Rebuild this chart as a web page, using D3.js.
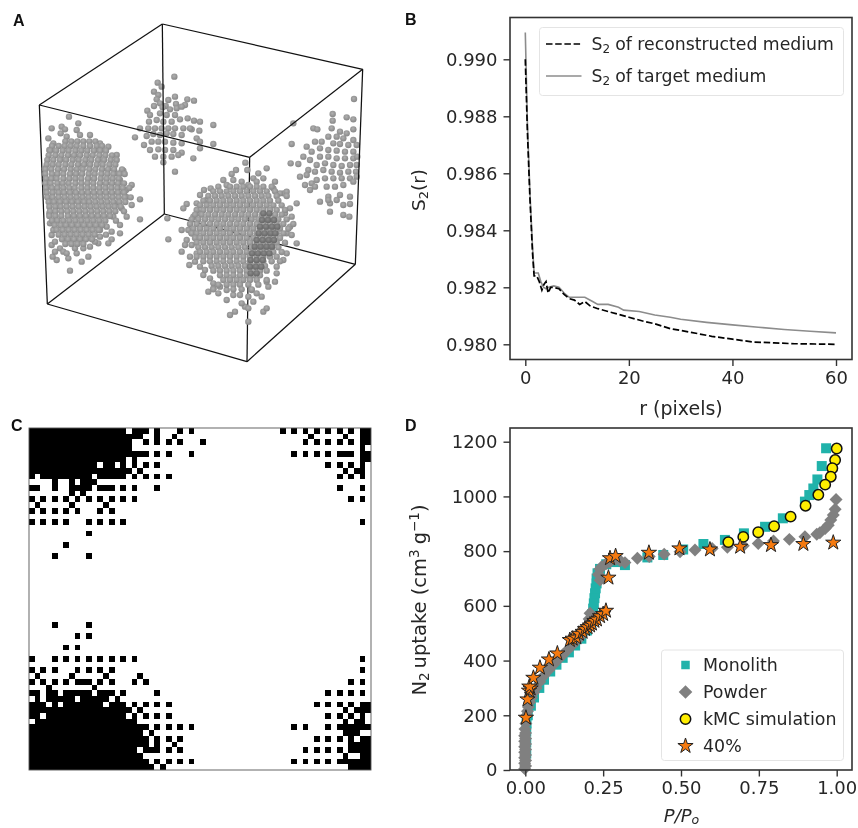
<!DOCTYPE html>
<html>
<head>
<meta charset="utf-8">
<script src="https://cdn.jsdelivr.net/npm/d3@7"></script>
<style>
html,body{margin:0;padding:0;background:#fff;}
svg{display:block;filter:blur(0.5px);}
text{font-family:"DejaVu Sans",sans-serif;fill:#262626;}
.letter{font-family:"Liberation Sans",sans-serif;font-weight:700;font-size:16px;fill:#111;}
</style>
</head>
<body>
<svg id="fig" width="858" height="828"></svg>
<script>
// ---------- Panel A : cube corners and spheres, in reference-crop units (3x picture) ----------
const cubeCorners = {tb:[487,72],tr:[1088,208],tf:[749,472],tl:[118,315],bl:[142,912],bf:[741,1085],br:[1066,793],bb:[493,642]};
const cubeEdges = [["tb","tr"],["tr","tf"],["tf","tl"],["tl","tb"],["bl","bf"],["bf","br"],["br","bb"],["bb","bl"],["tb","bb"],["tr","br"],["tf","bf"],["tl","bl"]];
const backSpheres = [[523,230],[473,248],[485,260],[462,275],[475,285],[470,298],[525,290],[505,300],[562,298],[582,302],[555,315],[528,312],[480,310],[497,318],[442,332],[462,318],[488,322],[510,328],[530,325],[545,320],[450,345],[480,340],[500,345],[525,345],[447,365],[470,360],[490,365],[515,365],[540,358],[563,355],[582,362],[600,365],[640,375],[420,385],[445,385],[465,385],[485,385],[505,385],[525,385],[550,385],[575,388],[598,392],[405,412],[440,408],[460,402],[480,405],[500,400],[520,402],[545,405],[590,415],[600,425],[640,432],[432,435],[455,425],[475,425],[495,425],[520,428],[545,430],[450,450],[475,448],[495,450],[520,450],[545,458],[600,445],[465,470],[490,470],[515,470],[535,465],[580,475],[490,487],[525,515],[570,385]];
const rightSpheres = [[1062,297],[998,342],[1040,352],[1060,358],[998,362],[880,370],[940,385],[952,388],[995,385],[1060,388],[1020,395],[1040,400],[875,432],[985,410],[1010,410],[1030,415],[1060,420],[920,440],[945,425],[965,425],[1000,430],[1020,432],[1045,435],[1070,435],[910,470],[935,455],[960,445],[985,450],[1010,452],[1035,455],[1060,455],[872,490],[895,492],[930,480],[960,470],[985,470],[1010,475],[1035,475],[1060,475],[1072,470],[925,510],[950,495],[975,490],[1000,495],[1025,498],[1050,495],[1070,495],[900,530],[920,525],[945,515],[970,510],[995,515],[1020,518],[1045,515],[1068,515],[915,555],[935,550],[930,570],[950,540],[975,535],[1000,535],[1025,535],[1050,535],[1070,530],[945,560],[980,560],[1005,560],[1030,555],[1060,545],[960,605],[985,590],[990,610],[1020,585],[1050,590],[1010,600],[1030,615],[1050,612],[990,635],[1030,645],[1048,650],[985,600]];
const leftScattered = [[207,350],[155,385],[185,380],[195,388],[235,370],[230,390],[182,400],[200,410],[240,405],[145,415],[160,430],[148,450],[270,405],[300,430],[325,440],[350,465],[370,512],[355,520],[395,555],[378,570],[420,598],[395,615],[420,658],[380,650],[360,675],[360,700],[335,718],[325,730],[295,730],[270,740],[265,770],[245,785],[210,812],[205,775],[170,780],[158,770],[155,735],[155,705],[230,760],[180,745],[190,755],[135,505],[360,540],[378,590],[345,610],[365,625],[340,650],[320,680],[335,695],[300,710],[285,725],[250,745],[225,745],[200,760],[165,725],[160,690],[150,670],[148,640],[165,755],[250,720],[300,690]];
const leftRows = [
[424,196,214,232,250,268,286],
[438,156,176,194,212,230,250,270,290,306],
[452,150,168,188,206,226,244,262,282,300,318],
[466,146,166,184,204,222,240,260,278,298,316,336],
[480,142,160,180,198,218,236,256,274,294,312,332,350],
[494,140,158,176,196,214,234,252,270,290,308,328,346],
[508,136,154,174,192,212,230,248,268,286,306,324,342,366],
[522,136,156,172,190,210,228,246,266,284,304,322,340,358,374],
[536,138,154,170,190,208,226,244,264,282,302,320,338,356],
[550,136,152,172,188,206,226,244,262,280,300,318,336,354,372],
[564,138,156,172,190,208,224,244,262,280,298,316,334,352,368,388],
[578,140,158,176,192,210,228,246,264,282,300,318,336,354,372],
[592,142,158,176,194,212,230,248,266,284,302,320,338,356,374,392],
[606,146,162,180,198,216,234,252,268,286,304,322,340,358,376],
[620,148,166,182,200,218,236,254,272,290,308,326,344,362],
[634,150,166,184,202,220,238,256,274,292,310,328,346,372],
[648,148,166,184,204,222,240,258,276,294,312,330],
[662,156,172,190,208,226,244,262,280,298,316,348],
[676,164,182,198,216,234,252,270,288,306],
[690,170,188,206,224,242,260,278,296],
[704,176,194,212,230,248,266,284,318],
[718,186,204,222,240,258,276],
[732,196,214,232,250]];
const centerScattered = [[736,488],[742,510],[708,510],[695,522],[670,540],[800,505],[775,520],[790,535],[825,545],[760,535],[632,565],[612,570],[600,585],[655,560],[680,555],[725,545],[850,580],[860,575],[890,610],[870,625],[560,612],[550,625],[590,610],[580,650],[545,690],[560,720],[575,735],[545,755],[570,770],[568,795],[505,718],[502,655],[890,730],[860,760],[830,800],[610,825],[630,835],[625,875],[640,865],[655,880],[680,900],[700,885],[690,945],[705,935],[745,965],[735,920],[745,925],[790,935],[800,925],[785,890],[760,905],[825,845],[805,860],[725,910],[755,870],[620,600],[600,640],[565,690],[575,700],[555,735],[590,760],[585,785],[600,800],[615,810],[640,850],[660,860],[680,870],[720,885],[745,890],[770,880],[800,845],[830,820],[850,780],[870,680],[875,650],[855,640],[860,700],[875,705],[840,580],[820,565],[770,545],[745,555],[700,540]];
const centerRows = [
[560,690,710,730,750,770,790,815],
[574,640,660,680,700,720,740,760,780,800,825],
[588,625,645,665,685,705,725,745,765,785,805,830,860],
[602,610,630,650,670,690,710,730,750,770,790,810,835],
[616,600,620,640,660,680,700,720,740,760,780,800,820,845],
[630,590,610,630,650,670,690,710,730,750,770,790,810,830,855],
[644,585,605,625,645,665,685,705,725,745,765,785,805,825,845],
[658,575,595,615,635,655,675,695,715,735,755,775,795,815,835,860],
[672,570,590,610,630,650,670,690,710,730,750,770,790,810,830,850,880],
[686,580,600,620,640,660,680,700,720,740,760,780,800,820,840,865],
[700,575,590,610,630,650,670,690,710,730,750,770,790,810,830,850],
[714,585,600,620,640,660,680,700,720,740,760,780,800,820,840],
[728,590,610,630,650,670,690,710,730,750,770,790,810,830,855],
[742,595,615,635,655,675,695,715,735,755,775,795,815,835],
[756,600,620,640,660,680,700,720,740,760,780,800,820,845],
[770,590,610,630,650,670,690,710,730,750,770,790,810,830],
[784,610,630,650,670,690,710,730,750,770,790,815,840],
[798,635,655,675,695,715,735,755,775,795],
[812,640,660,680,700,720,740,760,780,800],
[826,660,680,700,720,740,760,780],
[840,670,690,710,730,750,770,800],
[854,655,680,700,720,745,775],
[868,640,700,725,755]];
const centerDarkRows = [
[640,790,808],[660,786,804,822],[680,780,798,816,832],[700,776,794,812,826],
[720,770,788,806,822],[740,764,782,800,816],[760,756,774,792,808],[780,752,770,788],
[800,750,768,784],[820,752,770]];

// ---------- Panel B ----------
const s2Ticks = [0.980,0.982,0.984,0.986,0.988,0.990];
const rTicks = [0,20,40,60];
const reconR = [0,.4,.9,1.4,1.7,2.2,2.7,3.2,3.6,4.0,4.4,4.9,5.4,6.5,7.5,8.5,9.5,10.5,11.5,12.5,14,16,18,20,23,25,28,32,36,40,44,48,52,56,60];
const reconS = [.9900,.9875,.9851,.9832,.9824,.9824,.9822,.9819,.9821,.9822,.9818,.9820,.9820,.98195,.98175,.9816,.98155,.9814,.9815,.98135,.98125,.98115,.98105,.98095,.9808,.98072,.98055,.98042,.98028,.98018,.98008,.98005,.98002,.98001,.98000];
const targetR = [0,.4,.9,1.4,1.7,2.5,3,3.5,4,4.5,5.5,6.5,7.5,8.5,10,11.5,13,14,16,18,19,22,25,28,30,35,40,45,50,55,60];
const targetS = [.99094,.9878,.9853,.9834,.9825,.9825,.9822,.9820,.98195,.9820,.98205,.9820,.9818,.98165,.98165,.98165,.9815,.9814,.9814,.9813,.9812,.98115,.98103,.98095,.98088,.98077,.98068,.9806,.98052,.98046,.9804];

// ---------- Panel C : 60 x 60 binary slice, black spans per row ----------
const sliceRows = {
0:"0-16 18-20 22 26 28 44 46 48 50 52 54 56 58-59",
1:"0-19 22 25 49 55 58-59",
2:"0-17 20 22 24 26 30 48 50 52 54 56 58-59",
3:"0-17 58",
4:"0-20 22 24 28 46 48 50 52 54-56 58-59",
5:"0-16 18 58-59",
6:"0-11 13-14 16 18 20 22 52 54 56 58",
7:"0-17 19 55 57-58",
8:"0 2-10 12-16 18 20 22 24 54 56 58",
9:"4 7 9-11",
10:"0-1 4 7-10 12-14 16 18 22 54 58",
11:"7 9",
12:"0 2 4 6 8 10 12 14 16 18 56 58",
13:"1 7 13",
14:"0 2 4 6 8 12 14",
16:"0 2 4 6 10 12 14 16 58",
18:"10",
20:"6",
22:"4 10",
34:"4 10",
36:"8 10",
38:"6 8",
40:"0 4 6 8 10 12 14 16 18 58",
42:"0 2 4 8 10 12 14 58",
43:"1 7 13 19",
44:"0 2 4 6 8-10 12 14 18 20 56 58",
45:"3 11",
46:"0-1 3-4 6-10 12-14 16 22 52 54 56 58",
47:"1 3-7 9-13 15",
48:"0-2 4 6-12 14-16 18 20 22 24 50 52 54 56 58-59",
49:"0-17 19 55 57-59",
50:"0-1 3-16 18 20 22 24 52 54 56 58",
51:"1-18 55 57-58",
52:"0-20 22 24 26 28 46 48 52 54-59",
53:"0-19 21 55-57",
54:"0-20 22 24 26 50 52 54 56 58-59",
55:"0-20 22 25 56-59",
56:"0-18 20-22 24 26 48 50 52 54 56-59",
57:"0-19 55 58-59",
58:"0-20 22 24 26 28 46 48 50 52 54-59",
59:"0-21 23 56-59"};
const sliceSize = 60;

// ---------- Panel D ----------
const pTicks = [0,.25,.5,.75,1];
const uptakeTicks = [0,200,400,600,800,1000,1200];
const monolithP = [.003,.003,.003,.004,.008,.018,.028,.045,.06,.08,.1,.12,.14,.16,.18,.198,.212,.215,.218,.22,.222,.224,.226,.229,.229,.232,.24,.26,.29,.32,.392,.443,.507,.572,.641,.702,.77,.827,.898,.912,.925,.938,.952,.966];
const monolithU = [60,100,140,170,200,235,265,300,330,360,385,410,430,455,480,510,540,570,590,609,628,646,664,682,700,719,735,752,760,749,777,786,806,826,841,865,889,920,981,1005,1029,1062,1111,1176];
const powderP = [-.002,.001,-.002,.001,-.002,.001,-.002,.001,-.002,.001,-.002,.001,-.002,.001,-.001,.002,.005,.007,.01,.014,.02,.027,.035,.047,.06,.075,.09,.105,.12,.135,.15,.165,.18,.19,.2,.205,.208,.24,.235,.24,.245,.26,.272,.29,.305,.32,.36,.398,.446,.497,.545,.6,.649,.7,.748,.797,.848,.898,.936,.946,.963,.973,.981,.989,.995,.998];
const powderU = [5,15,25,35,45,55,65,75,85,95,105,115,125,135,150,170,200,215,230,248,265,283,300,323,345,365,385,403,420,438,455,472,490,510,530,552,573,694,715,735,743,755,761,770,765,758,774,780,789,798,804,810,814,820,828,837,843,853,862,867,883,895,914,932,953,989];
const kmcP = [1.0,.995,.986,.981,.963,.941,.900,.852,.799,.748,.700,.652];
const kmcU = [1175,1133,1103,1072,1043,1006,966,926,891,869,852,833];
const starP = [.002,.007,.012,.017,.013,.026,.047,.076,.103,.143,.152,.164,.172,.184,.192,.2,.208,.214,.222,.23,.24,.25,.259,.267,.272,.29,.397,.495,.593,.69,.789,.893,.989];
const starU = [191,258,290,298,305,337,374,404,426,475,480,484,498,505,515,522,528,535,545,550,562,570,582,703,774,782,794,810,806,816,822,826,831];
const dLegend = ["Monolith","Powder","kMC simulation","40%"];

const colors = {monolith:"#20b2aa",powder:"#808080",kmc:"#ffee00",star:"#f57a10",ink:"#333333"};

// ---------- drawing ----------
const svg = d3.select("#fig");
const defs = svg.append("defs");
function sphereGrad(id, a, b){
  const g = defs.append("radialGradient").attr("id",id).attr("cx","45%").attr("cy","40%").attr("r","60%");
  g.append("stop").attr("offset","0%").attr("stop-color",a);
  g.append("stop").attr("offset","100%").attr("stop-color",b);
}
sphereGrad("sph","#b0b0b0","#878787");
sphereGrad("sphDark","#8a8a8a","#666666");

[["A",13,26],["B",405,25],["C",11,430.5],["D",405,430.5]].forEach(d=>{
  svg.append("text").attr("class","letter").attr("x",d[1]).attr("y",d[2]).text(d[0]);
});

// Panel A
const ax = d3.scaleLinear().domain([0,1200]).range([0,400]);
const ay = d3.scaleLinear().domain([0,1200]).range([0,400]);
const gA = svg.append("g");
const flatten = rows => rows.flatMap(r => r.slice(1).map(x => [x, r[0]]));
function spheres(pts, fill){
  gA.append("g").selectAll("circle").data(pts).join("circle")
    .attr("cx",d=>ax(d[0])).attr("cy",d=>ay(d[1])).attr("r",3.2).attr("fill",fill);
}
spheres(backSpheres,"url(#sph)");
spheres(rightSpheres,"url(#sph)");
gA.append("g").selectAll("line").data(cubeEdges).join("line")
  .attr("x1",d=>ax(cubeCorners[d[0]][0])).attr("y1",d=>ay(cubeCorners[d[0]][1]))
  .attr("x2",d=>ax(cubeCorners[d[1]][0])).attr("y2",d=>ay(cubeCorners[d[1]][1]))
  .attr("stroke","#111").attr("stroke-width",1.25);
spheres(leftScattered.concat(flatten(leftRows)),"url(#sph)");
spheres(centerScattered.concat(flatten(centerRows)),"url(#sph)");
spheres(flatten(centerDarkRows),"url(#sphDark)");

// shared axes helper
function frame(g, box){
  g.append("rect").attr("x",box.l).attr("y",box.t).attr("width",box.r-box.l).attr("height",box.b-box.t)
    .attr("fill","none").attr("stroke",colors.ink).attr("stroke-width",1.6);
}
function styleAxis(g){
  g.select(".domain").remove();
  g.selectAll(".tick line").attr("stroke",colors.ink).attr("stroke-width",1.4);
  g.selectAll(".tick text").style("font-size","18px").style("fill","#262626");
}

// Panel B
const boxB = {l:510,r:852,t:17.5,b:359.5};
const xB = d3.scaleLinear().domain([0,60]).range([525.3,836]);
const yB = d3.scaleLinear().domain([.98,.99]).range([344.3,59.3]);
const gB = svg.append("g");
const lineB = d3.line().x(d=>xB(d[0])).y(d=>yB(d[1]));
const dash = "6.5,2.7";
gB.append("path").datum(d3.zip(targetR,targetS)).attr("d",lineB).attr("fill","none").attr("stroke","#8c8c8c").attr("stroke-width",1.6);
gB.append("path").datum(d3.zip(reconR,reconS)).attr("d",lineB).attr("fill","none").attr("stroke","#000").attr("stroke-width",1.7).attr("stroke-dasharray",dash);
frame(gB,boxB);
gB.append("g").attr("transform",`translate(0,${boxB.b})`).call(d3.axisBottom(xB).tickValues(rTicks).tickSize(6.5).tickPadding(5)).call(styleAxis);
gB.append("g").attr("transform",`translate(${boxB.l},0)`).call(d3.axisLeft(yB).tickValues(s2Ticks).tickFormat(d3.format(".3f")).tickSize(6.5).tickPadding(6)).call(styleAxis);
gB.append("text").attr("x",681).attr("y",415).attr("text-anchor","middle").style("font-size","19px").text("r (pixels)");
const s2lab = gB.append("text").attr("transform","translate(425,190) rotate(-90)").attr("text-anchor","middle").style("font-size","18.5px");
s2lab.append("tspan").text("S");
s2lab.append("tspan").attr("dy",3).style("font-size","13px").text("2");
s2lab.append("tspan").attr("dy",-3).text("(r)");
gB.append("rect").attr("x",539.5).attr("y",27.5).attr("width",304).attr("height",68).attr("rx",3)
  .attr("fill","#fff").attr("fill-opacity",.8).attr("stroke","#e4e4e4").attr("stroke-width",1);
gB.append("line").attr("x1",546).attr("x2",581.5).attr("y1",44).attr("y2",44).attr("stroke","#000").attr("stroke-width",1.7).attr("stroke-dasharray",dash);
gB.append("line").attr("x1",546).attr("x2",581.5).attr("y1",76).attr("y2",76).attr("stroke","#8c8c8c").attr("stroke-width",1.6);
[["of reconstructed medium",50],["of target medium",82]].forEach(d=>{
  const t = gB.append("text").attr("x",591.5).attr("y",d[1]).style("font-size","17.3px");
  t.append("tspan").text("S");
  t.append("tspan").attr("dy",3).style("font-size","12px").text("2");
  t.append("tspan").attr("dy",-3).attr("dx",5).text(d[0]);
});

// Panel C
const xC = d3.scaleBand().domain(d3.range(sliceSize)).range([29,371]);
const yC = d3.scaleBand().domain(d3.range(sliceSize)).range([428,770]);
const spans = Object.entries(sliceRows).flatMap(([row,txt]) => txt.split(" ").map(s => {
  const p = s.split("-").map(Number);
  return {row:+row, a:p[0], b:p.length>1?p[1]:p[0]};
}));
const gC = svg.append("g");
gC.append("g").attr("shape-rendering","crispEdges").selectAll("rect").data(spans).join("rect")
  .attr("x",d=>xC(d.a)).attr("y",d=>yC(d.row))
  .attr("width",d=>xC(d.b)+xC.bandwidth()-xC(d.a)).attr("height",yC.bandwidth())
  .attr("fill","#000");
gC.append("rect").attr("x",29).attr("y",428).attr("width",342).attr("height",342).attr("fill","none").attr("stroke","#555").attr("stroke-width",.9);

// Panel D
const boxD = {l:510,r:852,t:428,b:770};
const xD = d3.scaleLinear().domain([0,1]).range([525.3,836.7]);
const yD = d3.scaleLinear().domain([0,1200]).range([770,441.7]);
const gD = svg.append("g");
const sq = d3.symbol().type(d3.symbolSquare).size(100)();
const diamond = d3.symbol().type(d3.symbolSquare).size(84)();
const star = d3.symbol().type(d3.symbolStar).size(72)();
function marks(p,u,pathD,fill,stroke,sw,rot){
  gD.append("g").selectAll("path").data(d3.zip(p,u)).join("path")
    .attr("transform",d=>`translate(${xD(d[0])},${yD(d[1])}) rotate(${rot||0})`).attr("d",pathD)
    .attr("fill",fill).attr("stroke",stroke).attr("stroke-width",sw);
}
marks(monolithP,monolithU,sq,colors.monolith,"none",0);
marks(powderP,powderU,diamond,colors.powder,"none",0,45);
gD.append("g").selectAll("circle").data(d3.zip(kmcP,kmcU)).join("circle")
  .attr("cx",d=>xD(d[0])).attr("cy",d=>yD(d[1])).attr("r",5.2).attr("fill",colors.kmc).attr("stroke","#111").attr("stroke-width",1.5);
marks(starP,starU,star,colors.star,"#222",1);
frame(gD,boxD);
gD.append("g").attr("transform",`translate(0,${boxD.b})`).call(d3.axisBottom(xD).tickValues(pTicks).tickFormat(d3.format(".2f")).tickSize(6.5).tickPadding(5)).call(styleAxis);
gD.append("g").attr("transform",`translate(${boxD.l},0)`).call(d3.axisLeft(yD).tickValues(uptakeTicks).tickFormat(d3.format("d")).tickSize(6.5).tickPadding(6)).call(styleAxis);
const pLab = gD.append("text").attr("x",681.5).attr("y",822).attr("text-anchor","middle").style("font-size","18px").style("font-style","italic");
pLab.append("tspan").text("P/P");
pLab.append("tspan").attr("dy",2).style("font-size","12.5px").text("o");
const nLab = gD.append("text").attr("transform","translate(426,600) rotate(-90)").attr("text-anchor","middle").style("font-size","19.5px");
nLab.append("tspan").text("N");
nLab.append("tspan").attr("dy",3).style("font-size","13.5px").text("2");
nLab.append("tspan").attr("dy",-3).attr("dx",4).text("uptake (cm");
nLab.append("tspan").attr("dy",-7).style("font-size","13.5px").text("3");
nLab.append("tspan").attr("dy",7).attr("dx",5).text("g");
nLab.append("tspan").attr("dy",-7).style("font-size","13.5px").text("−1");
nLab.append("tspan").attr("dy",7).text(")");
gD.append("rect").attr("x",661.5).attr("y",650).attr("width",182).attr("height",110.5).attr("rx",3)
  .attr("fill","#fff").attr("fill-opacity",.8).attr("stroke","#e4e4e4").attr("stroke-width",1);
const legendY = d3.scalePoint().domain(dLegend).range([665,746]);
const legendSym = {"Monolith":[sq,colors.monolith,"none",0,.85,0],"Powder":[diamond,colors.powder,"none",0,1.05,45],"kMC simulation":[d3.symbol().type(d3.symbolCircle).size(85)(),colors.kmc,"#111",1.5,1,0],"40%":[star,colors.star,"#222",1,1,0]};
dLegend.forEach(name=>{
  const s = legendSym[name];
  gD.append("path").attr("transform",`translate(685.5,${legendY(name)}) rotate(${s[5]}) scale(${s[4]})`).attr("d",s[0]).attr("fill",s[1]).attr("stroke",s[2]).attr("stroke-width",s[3]);
  gD.append("text").attr("x",703).attr("y",legendY(name)+5.5).style("font-size","17.4px").text(name);
});
</script>
</body>
</html>
